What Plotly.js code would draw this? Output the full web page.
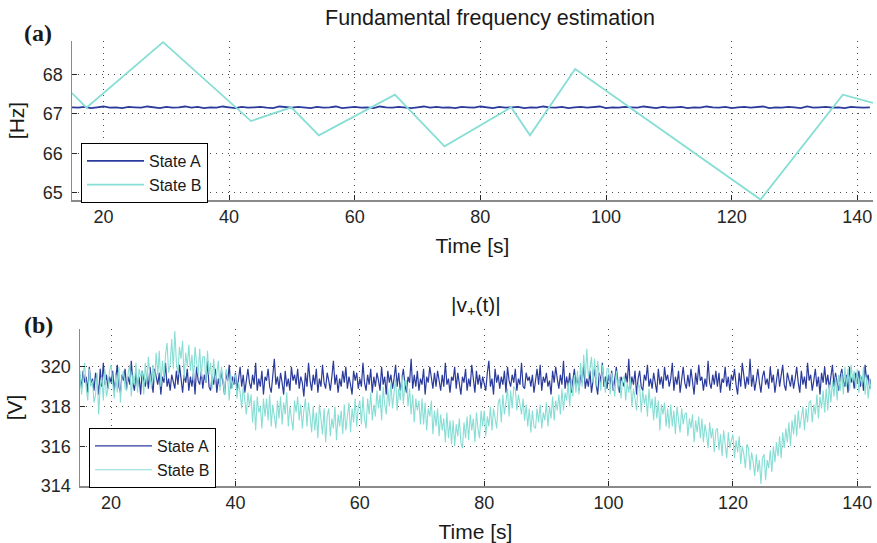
<!DOCTYPE html>
<html>
<head>
<meta charset="utf-8">
<script src="https://cdn.plot.ly/plotly-3.0.1.min.js"></script>
<style>html,body{margin:0;padding:0;background:#fff;}#chart{width:877px;height:543px;}</style>
</head>
<body>
<div id="chart"></div>
<script>
// ---------- Data ----------
// (a) Fundamental frequency estimation [Hz], sampled every 1 s from t = 15 s
const freqT0 = 15, freqDt = 1;
const freqStateA = [
67.17,67.16,67.18,67.15,67.17,67.19,67.16,67.17,67.15,67.18,
67.17,67.16,67.19,67.17,67.15,67.18,67.16,67.17,67.19,67.16,
67.18,67.15,67.17,67.16,67.19,67.17,67.15,67.18,67.16,67.17,
67.18,67.16,67.15,67.19,67.17,67.16,67.18,67.17,67.15,67.18,
67.16,67.17,67.19,67.15,67.17,67.18,67.16,67.17,67.15,67.19,
67.17,67.16,67.18,67.17,67.15,67.17,67.19,67.16,67.18,67.16,
67.17,67.15,67.18,67.17,67.16,67.19,67.17,67.15,67.18,67.16,
67.17,67.18,67.15,67.17,67.16,67.19,67.17,67.16,67.18,67.15,
67.17,67.18,67.16,67.17,67.19,67.15,67.17,67.16,67.18,67.17,
67.16,67.19,67.17,67.15,67.18,67.16,67.17,67.18,67.15,67.17,
67.16,67.19,67.17,67.16,67.18,67.15,67.17,67.18,67.16,67.17,
67.19,67.15,67.17,67.16,67.18,67.17,67.15,67.19,67.16,67.17,
67.18,67.16,67.17,67.15,67.18,67.17,67.16,67.17];
// State B: turning points of the frequency ramp
const freqStateBTime  = [15, 17.3, 29.5, 43.5, 49.9, 54.3, 66.4, 74.3, 84.9, 87.9, 95.1, 124.6, 137.7, 142.5];
const freqStateBValue = [67.53, 67.16, 68.82, 66.82, 67.17, 66.46, 67.49, 66.18, 67.17, 66.46, 68.14, 64.83, 67.49, 67.28];

// (b) |v+(t)| [V], sampled every 0.25 s from t = 15 s
const voltT0 = 15, voltDt = 0.25;
const voltStateA = [
319.6,318.9,319.8,319.2,319.5,318.7,320.0,319.1,319.4,318.8,
319.7,319.3,318.6,319.9,319.0,320.2,319.1,319.6,318.9,319.5,
319.2,319.8,318.8,319.4,320.1,319.0,318.7,319.6,319.3,319.9,
318.9,319.5,319.1,320.3,319.2,318.8,319.7,319.0,319.5,318.6,
319.8,319.3,319.0,319.6,318.9,320.0,319.2,318.7,319.9,319.4,
319.1,319.7,318.6,319.5,319.2,320.2,319.0,319.4,318.8,319.6,
319.3,318.9,319.8,319.1,320.1,319.4,318.7,319.6,319.2,319.9,
318.8,319.5,319.0,319.7,318.6,320.0,319.3,319.1,319.8,318.9,
319.6,319.2,320.3,319.0,318.8,319.5,319.1,319.9,318.7,319.4,
319.0,319.8,319.2,318.6,319.7,319.3,320.1,318.9,319.5,319.1,
319.7,318.8,319.4,320.0,319.0,319.6,318.7,319.3,319.9,319.2,
318.9,319.6,319.1,320.2,318.8,319.4,319.0,319.8,318.6,319.5,
319.3,319.9,319.0,318.7,319.6,320.4,319.1,319.5,318.9,319.7,
319.2,318.6,319.8,319.0,319.4,318.8,320.0,319.3,319.6,319.1,
319.9,318.9,319.5,319.2,318.5,319.7,319.0,320.2,319.3,318.8,
319.6,319.1,319.9,318.7,319.4,319.0,320.1,319.2,318.9,319.7,
319.3,318.8,319.5,320.3,319.1,319.6,318.7,319.4,319.0,319.8,
319.2,320.0,318.9,319.5,319.1,318.6,319.8,319.3,319.7,318.9,
319.4,319.0,320.2,319.2,318.8,319.6,319.1,319.9,318.7,319.5,
319.0,319.7,319.3,318.8,320.0,319.1,319.5,318.6,319.8,319.2,
319.6,318.9,319.4,320.1,319.0,319.7,318.8,319.3,319.9,319.1,
318.7,319.5,319.2,320.4,318.9,319.6,319.0,319.8,318.8,319.4,
319.1,319.9,318.6,319.5,319.2,320.0,319.3,318.9,319.7,319.0,
319.8,319.2,318.8,319.6,319.0,320.2,319.1,319.4,318.7,319.5,
319.3,320.0,318.9,319.7,319.1,318.6,319.5,319.2,319.9,318.8,
319.4,319.0,320.1,319.3,318.7,319.8,319.1,319.6,318.9,319.5,
319.2,318.8,319.7,320.3,319.0,319.4,318.6,319.9,319.2,319.6,
318.9,319.5,319.1,319.8,318.7,320.0,319.3,319.0,319.6,319.2,
319.9,318.8,319.4,319.1,320.2,319.0,318.9,319.7,319.3,319.5,
319.0,319.6,318.7,319.4,319.9,319.1,320.1,318.8,319.5,319.2,
319.7,319.0,319.3,318.6,319.8,319.2,320.0,319.4,318.9,319.6,
319.1,320.3,318.9,319.5,319.0,319.7,318.7,319.3,319.9,319.0,
319.5,318.8,319.6,319.2,320.1,318.9,319.4,319.0,319.8,318.7,
319.3,319.9,319.1,318.6,319.7,319.2,320.2,319.0,319.5,318.9,
319.6,319.1,319.8,318.8,319.4,320.0,319.2,318.7,319.5,319.3,
319.0,319.7,319.2,320.4,318.9,319.5,319.1,319.8,318.6,319.4,
319.8,319.0,318.8,319.6,319.3,320.1,319.0,319.4,318.9,319.7,
319.2,318.7,319.9,319.1,319.5,318.9,320.0,319.3,319.6,319.0,
319.4,320.2,318.8,319.5,319.1,319.8,318.7,319.3,320.0,319.2,
318.9,319.6,319.0,319.9,319.2,318.6,319.7,319.1,320.1,319.3,
319.5,318.8,319.4,319.0,320.3,319.2,318.9,319.6,319.1,319.8,
319.0,319.7,318.7,319.4,319.2,320.0,319.0,319.5,318.8,319.6,
319.3,319.9,319.1,318.6,319.7,319.0,320.2,319.4,318.9,319.5,
319.1,320.4,319.0,319.6,318.8,319.3,319.9,319.2,318.7,319.5,
319.8,319.1,319.4,318.9,320.0,319.2,319.6,318.7,319.3,319.9,
319.0,319.5,320.1,319.1,318.8,319.7,319.3,319.0,319.6,318.9,
319.4,320.0,319.2,318.7,319.8,319.1,319.5,318.9,320.2,319.3,
319.6,318.8,319.3,319.9,319.0,319.5,318.6,319.7,319.2,320.0,
319.1,319.6,318.9,319.4,320.1,319.0,319.7,319.2,318.8,319.5,
319.9,319.3,319.0,319.6,318.7,320.0,319.2,319.5,318.9,319.7,
319.2,319.8,319.0,319.5,318.8,320.1,319.3,319.6,318.9,319.4];
const voltStateB = [
319.8,318.6,319.5,320.2,318.9,318.3,319.9,319.0,319.3,318.2,
318.6,319.7,317.6,319.0,319.5,318.3,319.9,318.5,318.9,319.8,
320.1,319.0,318.4,319.6,318.7,320.0,318.2,319.5,319.8,318.9,
318.8,319.7,320.1,318.5,319.6,319.1,320.2,318.7,319.9,319.5,
319.8,318.6,320.2,319.2,320.5,319.5,318.9,320.1,319.3,320.7,
319.6,320.8,319.0,320.3,319.4,320.6,321.2,319.7,320.1,321.4,
319.9,321.8,320.2,319.6,321.0,320.4,321.3,319.4,320.7,320.0,
321.1,319.8,320.6,319.3,321.0,320.2,319.6,320.9,319.5,320.5,
320.5,319.2,320.8,319.6,320.2,318.9,320.4,319.3,319.7,320.3,
318.8,320.0,319.2,318.6,319.9,319.4,318.3,319.6,318.9,319.5,
319.6,318.4,319.2,318.7,317.9,319.0,318.3,317.6,318.7,318.0,
318.6,317.2,318.3,316.8,318.5,317.7,318.0,316.9,318.4,317.5,
318.4,317.3,318.6,317.0,318.1,317.6,316.9,318.3,317.4,318.5,
317.1,318.2,317.6,318.7,317.0,318.0,317.4,316.8,318.3,317.7,
318.5,317.3,318.1,316.9,317.8,318.4,317.0,318.2,317.5,316.7,
318.0,316.8,317.7,316.4,318.1,317.2,316.6,317.9,316.2,317.5,
317.9,316.5,317.4,316.9,318.0,316.3,317.6,317.0,317.8,316.6,
318.1,316.8,317.5,318.2,316.7,317.9,317.2,318.4,317.0,318.0,
318.3,317.1,318.5,317.4,316.9,318.4,317.6,318.7,317.3,318.1,
317.5,318.8,317.9,318.6,317.3,319.0,318.1,317.6,318.9,318.0,
319.2,317.9,318.7,319.4,317.8,318.9,318.3,319.6,318.1,319.3,
319.3,318.0,318.9,317.6,318.6,317.2,318.4,317.8,318.3,317.1,
318.4,317.1,318.2,316.8,317.9,317.5,318.3,316.6,317.8,317.0,
317.9,316.5,317.6,316.8,317.4,316.2,317.7,316.4,317.3,316.1,
317.3,316.0,317.1,316.5,317.4,316.2,315.9,317.2,316.4,317.5,
316.3,317.6,316.8,317.4,316.2,317.7,316.9,316.4,317.8,317.0,
317.8,316.5,317.5,317.0,318.0,316.8,317.9,317.3,316.9,318.2,
318.4,317.2,318.6,317.6,318.2,318.9,317.5,318.8,317.9,319.0,
318.9,317.8,318.6,318.1,317.6,318.4,317.3,318.1,317.0,317.9,
316.7,317.8,317.0,316.9,317.9,317.2,318.1,316.9,317.7,317.3,
318.2,317.0,318.0,317.4,318.5,317.3,318.3,317.8,318.6,317.6,
318.9,317.8,318.7,318.3,319.2,318.0,319.4,318.5,319.6,318.7,
319.8,318.6,320.2,319.0,320.6,319.3,320.9,319.5,319.9,320.5,
319.2,320.4,319.0,320.3,319.4,318.8,320.1,319.3,318.7,319.9,
319.9,318.6,319.7,319.1,318.5,319.8,318.9,319.5,318.4,319.4,
319.5,318.3,319.2,318.7,319.4,318.0,318.9,318.4,317.8,319.1,
319.0,317.7,318.8,318.1,318.6,317.5,318.9,317.9,318.4,317.3,
318.5,317.4,318.3,316.8,318.1,317.6,318.2,317.0,317.9,316.9,
318.1,317.0,317.8,316.6,318.0,317.3,316.7,317.9,317.1,317.6,
317.7,316.5,317.4,316.9,317.6,316.2,317.3,316.7,317.5,316.4,
317.4,316.2,317.1,316.6,315.9,317.2,316.4,316.9,315.7,316.8,
316.9,315.8,316.6,315.5,316.8,316.1,315.4,316.7,315.9,316.3,
316.6,315.4,316.3,315.7,316.5,315.1,316.0,315.6,314.9,316.1,
315.9,314.8,315.7,315.2,314.5,315.6,314.7,315.3,314.1,315.4,
315.6,314.3,315.3,314.9,315.8,314.7,316.0,315.2,316.2,315.5,
316.5,315.4,316.7,315.9,316.9,316.2,317.2,316.0,317.3,316.6,
317.6,316.5,317.8,316.9,317.5,318.0,316.8,317.9,317.2,318.2,
318.3,317.2,318.1,317.6,318.6,317.4,318.5,317.9,318.8,317.7,
318.9,317.8,319.1,318.2,319.3,318.5,319.5,318.3,319.6,318.8,
319.7,318.6,320.0,319.0,319.9,318.8,320.1,319.3,319.8,318.9,
319.9,318.7,319.6,319.1,320.0,318.6,319.5,318.4,319.3,318.8];

const seriesNames = ['State A', 'State B'];
const xTicks = [20, 40, 60, 80, 100, 120, 140];
const freqTicks = [65, 66, 67, 68];
const voltTicks = [314, 316, 318, 320];

// ---------- Styling ----------
const colA = '#2b3b9c';
const colB = '#86ded5';
const W = 877, H = 543;
const px = v => v / W;
const py = v => 1 - v / H;
const sans = 'Liberation Sans, Arial, sans-serif';
const tickFont = {family: sans, size: 18, color: '#262626'};
const labelFont = {family: sans, size: 21, color: '#1a1a1a'};

const data = [
  {type: 'scatter', mode: 'lines', name: seriesNames[0], x0: freqT0, dx: freqDt, y: freqStateA,
   xaxis: 'x', yaxis: 'y', line: {color: colA, width: 1.8}, legend: 'legend'},
  {type: 'scatter', mode: 'lines', name: seriesNames[1], x: freqStateBTime, y: freqStateBValue,
   xaxis: 'x', yaxis: 'y', line: {color: colB, width: 1.8}, legend: 'legend'},
  {type: 'scatter', mode: 'lines', name: seriesNames[0], x0: voltT0, dx: voltDt, y: voltStateA,
   xaxis: 'x2', yaxis: 'y2', line: {color: colA, width: 1.2}, legend: 'legend2'},
  {type: 'scatter', mode: 'lines', name: seriesNames[1], x0: voltT0, dx: voltDt, y: voltStateB,
   xaxis: 'x2', yaxis: 'y2', line: {color: colB, width: 1.1}, legend: 'legend2'}
];

const axisCommon = {
  showline: true, linecolor: '#8a8a8a', linewidth: 1.5, mirror: false,
  ticks: 'inside', ticklen: 5, tickwidth: 1, tickcolor: '#262626',
  showgrid: true, gridcolor: '#4d4d4d', gridwidth: 1, griddash: '1px,5px',
  zeroline: false, tickfont: tickFont, automargin: false, fixedrange: true
};
const yAxisExtra = {ticklabelstandoff: 4};

const legendCommon = {
  bgcolor: '#ffffff', bordercolor: '#000000', borderwidth: 1,
  font: {family: sans, size: 16, color: '#1a1a1a'},
  xanchor: 'left', yanchor: 'top', tracegroupgap: 0, itemwidth: 57
};

const layout = {
  width: W, height: H,
  margin: {l: 0, r: 0, t: 0, b: 0},
  paper_bgcolor: '#ffffff', plot_bgcolor: '#ffffff',
  showlegend: true,
  xaxis: Object.assign({}, axisCommon, {
    domain: [px(72), px(873)], range: [15, 142.5], tickvals: xTicks, anchor: 'y',
    title: {text: 'Time [s]', font: labelFont, standoff: 12}
  }),
  yaxis: Object.assign({}, axisCommon, yAxisExtra, {
    domain: [py(200), py(41)], range: [64.82, 68.85], tickvals: freqTicks, anchor: 'x',
    title: {text: '[Hz]', font: labelFont, standoff: 12}
  }),
  xaxis2: Object.assign({}, axisCommon, {
    domain: [px(80), px(871)], range: [15, 142.2], tickvals: xTicks, anchor: 'y2',
    title: {text: 'Time [s]', font: labelFont, standoff: 12}
  }),
  yaxis2: Object.assign({}, axisCommon, yAxisExtra, {
    domain: [py(486), py(329)], range: [314, 321.9], tickvals: voltTicks, anchor: 'x2',
    title: {text: '[V]', font: labelFont, standoff: 12}
  }),
  legend: Object.assign({}, legendCommon, {x: px(81), y: py(143)}),
  legend2: Object.assign({}, legendCommon, {x: px(89), y: py(428)}),
  annotations: [
    {text: 'Fundamental frequency estimation', xref: 'paper', yref: 'paper', x: px(490), y: py(18),
     showarrow: false, xanchor: 'center', yanchor: 'middle', font: {family: sans, size: 21.5, color: '#1a1a1a'}},
    {text: '|v<sub>+</sub>(t)|', xref: 'paper', yref: 'paper', x: px(476), y: py(306),
     showarrow: false, xanchor: 'center', yanchor: 'middle', font: {family: sans, size: 21, color: '#1a1a1a'}},
    {text: '<b>(a)</b>', xref: 'paper', yref: 'paper', x: px(38), y: py(33),
     showarrow: false, xanchor: 'center', yanchor: 'middle', font: {family: 'Liberation Serif, Times New Roman, serif', size: 24, color: '#1a1a1a'}},
    {text: '<b>(b)</b>', xref: 'paper', yref: 'paper', x: px(38), y: py(325),
     showarrow: false, xanchor: 'center', yanchor: 'middle', font: {family: 'Liberation Serif, Times New Roman, serif', size: 24, color: '#1a1a1a'}}
  ]
};

Plotly.newPlot('chart', data, layout, {displayModeBar: false, staticPlot: true});
</script>
</body>
</html>
